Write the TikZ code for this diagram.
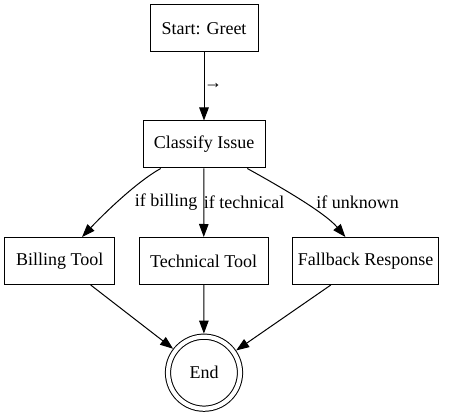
\documentclass[tikz,border=0pt]{standalone}
\usepackage{fontspec}
\setmainfont{Liberation Serif}
\usetikzlibrary{arrows.meta}
\begin{document}
\begin{tikzpicture}[
        x=1pt, y=1pt,
        bsty/.style={
            draw, rectangle,
            line width=1pt,
            minimum height=47pt,
            inner sep=0pt,
            font=\fontsize{18}{21}\selectfont,
        },
        esty/.style={
            draw, circle,
            line width=1pt,
            double, double distance=4.2pt,
            minimum size=72pt, inner sep=0pt, outer sep=3.1pt,
            font=\fontsize{18}{21}\selectfont,
        },
        lsty/.style={inner sep=0pt, font=\fontsize{18}{21}\selectfont},
        asty/.style={-{Triangle[length=13pt,width=9.5pt]}, line width=1pt},
    ]
    \useasboundingbox (0,0) rectangle (457,417);

    \foreach \n/\ox/\oy/\w/\t in {start/204/388.5/108/{Start: Greet},
            cls/204/272.5/122/{Classify Issue},
            bil/59.7/156/110/{Billing Tool},
            tec/203.7/156/129/{Technical Tool},
            fal/365.5/156/146/{Fallback Response}}{
        \node[bsty, minimum width=\w pt] at (\ox,\oy) (\n) {\t};
    }
    \node[esty] at (204,44.3) (endn) {End};

    \draw[asty] (start) -- (cls);
    \draw[asty] (cls) to[out=209,in=47,looseness=0.7] (bil);
    \draw[asty] (cls) -- (tec);
    \draw[asty] (cls) to[out=-29,in=130,looseness=0.7] (fal);
    \draw[asty] (bil) -- (endn);
    \draw[asty] (tec) -- (endn);
    \draw[asty] (fal) -- (endn);

    \node[lsty] at (213,331) (lgo) {→};
    \node[lsty] at (166,215) (lbil) {if billing};
    \node[lsty] at (244,215) (ltec) {if technical};
    \node[lsty] at (357.5,215) (lunk) {if unknown};
\end{tikzpicture}
\end{document}
